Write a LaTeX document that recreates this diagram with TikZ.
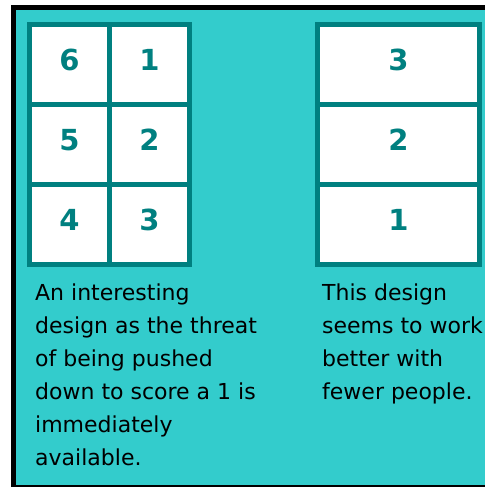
\documentclass[tikz,border=0pt]{standalone}
\usepackage{fontspec}
\setmainfont{DejaVu Sans}
\definecolor{turq}{HTML}{33CCCC}
\definecolor{tealc}{HTML}{008080}
\begin{document}
\begin{tikzpicture}[x=1pt,y=-1pt,
  grid/.style={draw=tealc, line width=5pt, fill=white},
  gridline/.style={draw=tealc, line width=5pt},
  digit/.style={text=tealc, font=\fontsize{29}{32}\selectfont\bfseries, inner sep=0pt},
  note/.style={anchor=base west, align=left, inner sep=0pt, font=\fontsize{22}{33}\selectfont}]
\useasboundingbox (0,0) rectangle (485,487);
\fill[white] (0,0) rectangle (485,487);
\fill[black] (11,5) rectangle (485,487);
\fill[turq] (16,10) rectangle (485,485);
% left table
\draw[grid] (29.5,24.5) rectangle (189.5,264.5);
\draw[gridline] (109.5,24.5) -- (109.5,264.5);
\draw[gridline] (29.5,104.5) -- (189.5,104.5);
\draw[gridline] (29.5,184.5) -- (189.5,184.5);
% right table
\draw[grid] (317.5,24.5) rectangle (479.5,264.5);
\draw[gridline] (317.5,104.5) -- (479.5,104.5);
\draw[gridline] (317.5,184.5) -- (479.5,184.5);
% digits
\node[digit] (l6) at (69.5,60) {6};
\node[digit] (l1) at (149.5,60) {1};
\node[digit] (l5) at (69.5,140) {5};
\node[digit] (l2) at (149.5,140) {2};
\node[digit] (l4) at (69.5,220) {4};
\node[digit] (l3) at (149.5,220) {3};
\node[digit] (r3) at (398.5,60) {3};
\node[digit] (r2) at (398.5,140) {2};
\node[digit] (r1) at (398.5,220) {1};
% notes (base anchor = baseline of last line)
\node[note] (lnote) at (35,465) {An interesting\\design as the threat\\of being pushed\\down to score a 1 is\\immediately\\available.};
\node[note] (rnote) at (322,399) {This design\\seems to work\\better with\\fewer people.};
\end{tikzpicture}
\end{document}
